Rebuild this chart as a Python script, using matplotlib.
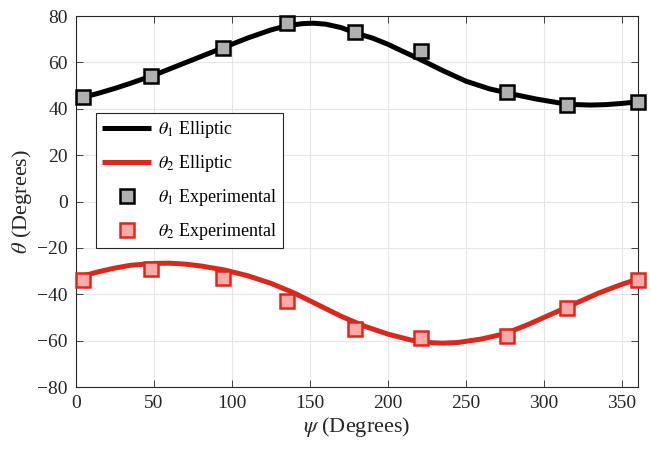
import numpy as np
import matplotlib
matplotlib.use("Agg")
import matplotlib.pyplot as plt

# * Dados
psi_t1_curva = [5, 15, 25, 35, 50, 65, 80, 95, 110, 125, 135, 145, 152, 160, 170,
                180, 190, 200, 210, 220, 235, 250, 265, 280, 295, 310, 320, 330,
                340, 350, 360]
t1_curva = [45, 46.8, 48.8, 51, 54.5, 58.5, 62.5, 66.5, 70.5, 74, 75.8, 76.7,
            76.9, 76.5, 75, 72.5, 70.5, 67.8, 64.6, 61.5, 56.5, 51.9, 48.6, 46.3,
            44.2, 42.5, 41.8, 41.6, 41.8, 42.3, 43]

psi_t2_curva = [5, 15, 25, 35, 50, 60, 70, 80, 95, 110, 125, 140, 155, 170, 185,
                200, 215, 225, 235, 245, 260, 275, 290, 305, 320, 335, 350, 360]
t2_curva = [-32, -30.2, -28.7, -27.5, -26.7, -26.6, -27, -27.8, -29.5, -32, -35.3,
            -39.5, -44.5, -49.5, -53.8, -57.2, -59.8, -60.8, -61.1, -60.8, -59.3,
            -57, -53, -48.5, -44, -39.5, -35.7, -33.5]

psi_exp = [4.5, 48, 94, 135, 179, 221, 276, 315, 360]
t1_exp = [45, 54, 66, 77, 73, 65, 47.4, 41.5, 43]
t2_exp = [-34, -29, -33, -43, -55, -59, -58, -46, -34]

# * Estilo parecido com MATLAB
plt.rcParams["font.family"] = "Liberation Serif"
plt.rcParams["mathtext.fontset"] = "stix"

cinza_txt = "#262626"
vermelho = "#D9291C"

fig = plt.figure(figsize=(6.51, 4.5), dpi=100)
ax = fig.add_axes([0.1167, 0.14, 0.8627, 0.8244])

ax.plot(psi_t1_curva, t1_curva, color="black", lw=3.6, label=r"$\theta_1$ Elliptic",
        zorder=3, solid_capstyle="butt", solid_joinstyle="round")
ax.plot(psi_t2_curva, t2_curva, color=vermelho, lw=3.6, label=r"$\theta_2$ Elliptic",
        zorder=3, solid_capstyle="butt", solid_joinstyle="round")
ax.plot(psi_exp, t1_exp, ls="none", marker="s", ms=10, mfc="#B0B0B0", mec="black",
        mew=1.8, label=r"$\theta_1$ Experimental", zorder=4, clip_on=False)
ax.plot(psi_exp, t2_exp, ls="none", marker="s", ms=10, mfc="#FFAAAA", mec=vermelho,
        mew=1.8, label=r"$\theta_2$ Experimental", zorder=4, clip_on=False)

ax.set_xlim(0, 360)
ax.set_ylim(-80, 80)
ax.set_xticks(np.arange(0, 351, 50))
ax.set_yticks(np.arange(-80, 81, 20))
ax.grid(True, color="#E6E6E6", lw=0.8)
ax.set_axisbelow(True)
ax.tick_params(direction="in", length=5, width=0.6, colors=cinza_txt,
               labelsize=14, top=True, right=True, pad=6)
for sp in ax.spines.values():
    sp.set_color(cinza_txt)
    sp.set_linewidth(0.8)

ax.set_xlabel(r"$\psi$ (Degrees)", fontsize=16, color=cinza_txt, labelpad=2)
ax.set_ylabel(r"$\theta$ (Degrees)", fontsize=16, color=cinza_txt, labelpad=2)

leg = ax.legend(loc="upper left", bbox_to_anchor=(0.0356, 0.739), fontsize=13,
                frameon=True, fancybox=False, edgecolor=cinza_txt, framealpha=1,
                handlelength=2.7, handletextpad=0.4, labelspacing=0.72,
                borderpad=0.35, borderaxespad=0)
leg.get_frame().set_linewidth(0.8)

fig.savefig("out.png", dpi=100)
